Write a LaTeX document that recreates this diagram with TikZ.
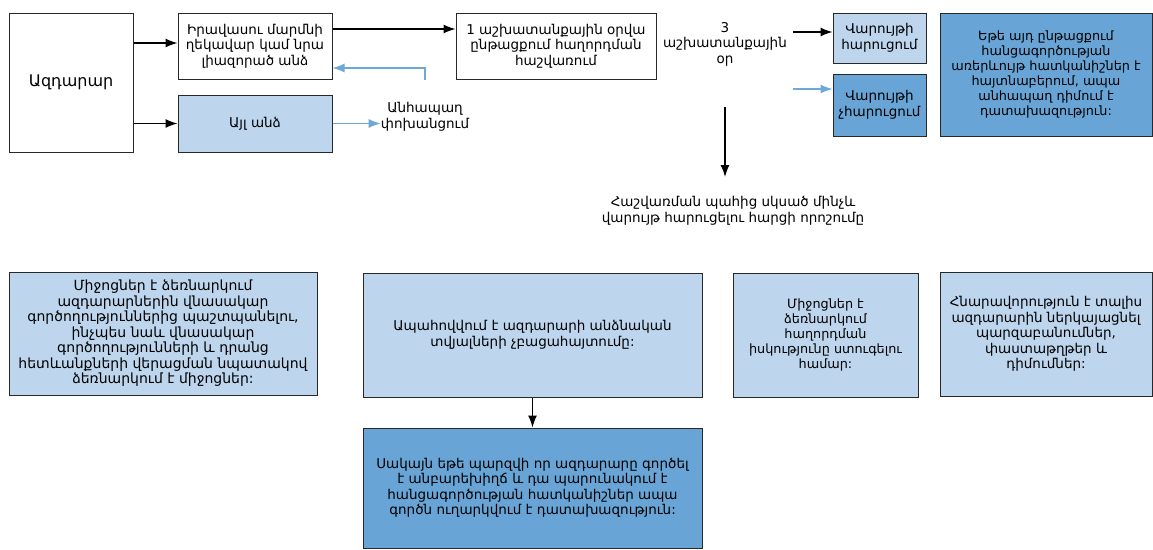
\documentclass[tikz,border=0pt]{standalone}
\usepackage{fontspec}
\setmainfont{DejaVu Sans}
\usetikzlibrary{arrows.meta}
\definecolor{lightblu}{RGB}{189,214,238}
\definecolor{midblu}{RGB}{104,165,214}
\definecolor{linblu}{RGB}{110,168,214}
\definecolor{bord}{RGB}{40,40,40}
\tikzset{
  box/.style={draw=bord, line width=1pt, align=center, inner sep=0pt, font=\fontsize{13.5}{15.5}\selectfont},
  plain/.style={align=center, inner sep=0pt, font=\fontsize{13.5}{15.5}\selectfont},
  small/.style={font=\fontsize{12.8}{15}\selectfont},
  blk/.style={draw=black, line width=1.3pt, -{Latex[length=12pt,width=9pt]}},
  blu/.style={draw=linblu, line width=1.3pt, -{Latex[length=12pt,width=9pt]}},
}
\begin{document}
\begin{tikzpicture}[x=1pt,y=-1pt]
\useasboundingbox (0,0) rectangle (1153,549);
\fill[white] (0,0) rectangle (1153,549);
% top row
\node[box, font=\fontsize{16}{18}\selectfont, minimum width=124pt, minimum height=139pt] (azd) at (71,82.5) {Ազդարար};
\node[box, minimum width=154pt, minimum height=66pt] (irav) at (255,46) {Իրավասու մարմնի\\ղեկավար կամ նրա\\լիազորած անձ};
\node[box, fill=lightblu, minimum width=154pt, minimum height=57pt] (ayl) at (255,123.5) {Այլ անձ};
\node[box, minimum width=200pt, minimum height=66pt] (hashv) at (556,46) {1 աշխատանքային օրվա\\ընթացքում հաղորդման\\հաշվառում};
\node[plain] (three) at (725,44) {3\\աշխատանքային\\օր};
\node[box, fill=lightblu, minimum width=93pt, minimum height=50pt] (harvc) at (879.5,38) {Վարույթի\\հարուցում};
\node[box, fill=midblu, minimum width=93pt, minimum height=62pt] (chharvc) at (879.5,105) {Վարույթի\\չհարուցում};
\node[box, small, fill=midblu, minimum width=212pt, minimum height=123pt] (ete) at (1046,74.5) {Եթե այդ ընթացքում\\հանցագործության\\առերևույթ հատկանիշներ է\\հայտնաբերում, ապա\\անհապաղ դիմում է\\դատախազություն:};
\node[plain] (anhap) at (425,117) {Անհապաղ\\փոխանցում};
\node[plain] (hashvt) at (733,211) {Հաշվառման պահից սկսած մինչև\\վարույթ հարուցելու հարցի որոշումը};
% bottom row
\node[box, font=\fontsize{14}{15.5}\selectfont, fill=lightblu, minimum width=308pt, minimum height=123pt] (b1) at (163,333.5) {Միջոցներ է ձեռնարկում\\ազդարարներին վնասակար\\գործողություններից պաշտպանելու,\\ինչպես նաև վնասակար\\գործողությունների և դրանց\\հետևանքների վերացման նպատակով\\ձեռնարկում է միջոցներ:};
\node[box, fill=lightblu, minimum width=339pt, minimum height=124pt] (b2) at (532.5,335) {Ապահովվում է ազդարարի անձնական\\տվյալների չբացահայտումը:};
\node[box, small, fill=lightblu, minimum width=185pt, minimum height=124pt] (b3) at (825.5,335) {Միջոցներ է\\ձեռնարկում\\հաղորդման\\իսկությունը ստուգելու\\համար:};
\node[box, fill=lightblu, minimum width=212pt, minimum height=124pt] (b4) at (1046,334) {Հնարավորություն է տալիս\\ազդարարին ներկայացնել\\պարզաբանումներ,\\փաստաթղթեր և\\դիմումներ:};
\node[box, fill=midblu, minimum width=339pt, minimum height=120pt] (b5) at (532.5,488) {Սակայն եթե պարզվի որ ազդարարը գործել\\է անբարեխիղճ և դա պարունակում է\\հանցագործության հատկանիշներ ապա\\գործն ուղարկվում է դատախազություն:};
% connectors
\coordinate (c1) at (793,32);
\coordinate (c2) at (793,89);
\coordinate (v1) at (725,107);
\coordinate (v2) at (725,177);
\coordinate (fb) at (425,68);
\draw[blk] (azd.east |- 0,43) -- (irav.west |- 0,43);
\draw[blk] (azd.east |- ayl.west) -- (ayl.west);
\draw[blk] (irav.east |- 0,29) -- (hashv.west |- 0,29);
\draw[blk] (c1) -- (harvc.west |- c1);
\draw[blu] (c2) -- (chharvc.west |- c2);
\draw[blu] (fb |- irav.south) -- (fb) -- (irav.east |- fb);
\draw[blu] (ayl.east) -- (anhap.west |- ayl.east);
\draw[blk] (v1) -- (v2);
\draw[blk] (b2.south) -- (b5.north);
\end{tikzpicture}
\end{document}
